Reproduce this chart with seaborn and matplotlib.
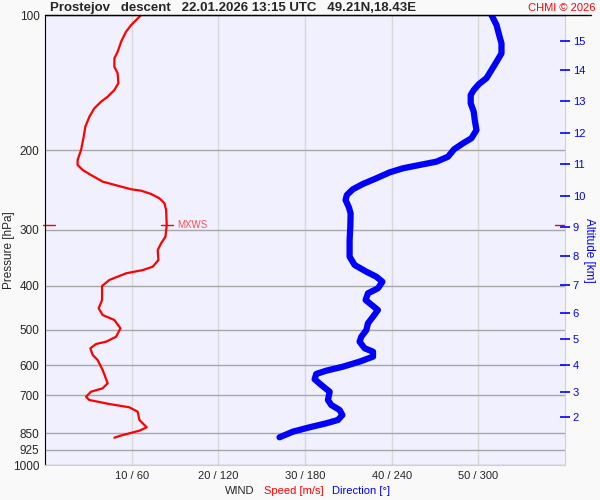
import numpy as np
import pandas as pd
import seaborn as sns
import matplotlib
matplotlib.use("Agg")
import matplotlib.pyplot as plt
from matplotlib.lines import Line2D
from matplotlib.ticker import FixedLocator, NullLocator

# wind speed profile [m/s] vs pressure [hPa]
speed_p = [100.0, 105.3, 108.9, 114.6, 120.7, 124.8, 130.3, 134.8, 141.8, 146.8,
           151.9, 155.8, 161.2, 168.3, 177.1, 186.4, 199.5, 210.0, 215.4, 221.0,
           226.8, 234.6, 239.5, 243.9, 245.7, 249.9, 255.5, 262.1, 271.3, 292.9,
           311.0, 321.7, 332.9, 350.4, 362.6, 368.8, 375.0, 388.0, 400.2, 429.9,
           448.5, 464.2, 476.2, 496.9, 518.7, 532.1, 538.4, 550.4, 569.5, 584.3,
           615.0, 658.2, 675.4, 687.2, 705.1, 717.1, 731.9, 744.4, 761.3, 794.3,
           824.5, 839.0, 850.3, 862.1, 869.6]
speed = [11.09, 9.93, 9.35, 8.78, 8.38, 8.0, 8.0, 8.38, 8.46, 8.0,
         7.23, 6.47, 5.69, 5.12, 4.65, 4.46, 4.16, 3.76, 3.76, 4.34,
         5.31, 6.65, 8.38, 9.93, 11.09, 12.24, 13.2, 13.78, 13.97, 14.04,
         13.89, 13.39, 13.0, 13.08, 12.42, 11.27, 9.35, 7.42, 6.58, 6.58,
         6.19, 6.65, 8.0, 8.7, 8.2, 7.04, 5.89, 5.23, 5.5, 6.07,
         6.65, 7.23, 6.65, 5.31, 4.73, 5.12, 7.42, 9.73, 10.69, 10.89,
         11.73, 10.89, 9.73, 8.58, 8.0]

# wind direction profile [deg] vs pressure [hPa]
dir_p = [100.0, 105.3, 110.8, 115.6, 121.7, 127.0, 132.5, 138.2, 142.3, 146.8,
         150.6, 157.1, 164.0, 171.2, 180.2, 187.9, 192.8, 198.8, 206.5, 211.8,
         215.4, 219.1, 223.7, 230.6, 237.4, 243.9, 251.2, 257.7, 267.5, 275.9,
         295.4, 316.2, 344.4, 359.4, 371.9, 381.6, 391.5, 404.9, 415.4, 429.9,
         443.3, 452.5, 468.2, 484.3, 501.2, 518.7, 532.1, 550.4, 560.0, 574.4,
         589.3, 604.6, 617.1, 627.6, 644.9, 664.0, 687.3, 717.1, 735.6, 754.6,
         774.3, 794.3, 807.8, 824.5, 843.3, 867.8]
direction = [309.0, 312.5, 314.3, 315.9, 315.9, 312.5, 309.0, 305.5, 300.4, 296.7,
             294.6, 294.6, 296.7, 297.4, 298.6, 295.1, 289.3, 283.1, 278.9, 270.9,
             259.3, 247.7, 238.5, 229.3, 220.0, 213.1, 208.9, 208.0, 210.3, 211.5,
             211.3, 210.8, 210.8, 214.3, 222.4, 229.3, 233.5, 230.4, 223.5, 221.9,
             227.0, 230.4, 227.0, 223.5, 222.4, 218.9, 217.7, 221.2, 227.0, 227.0,
             217.7, 206.2, 194.7, 187.7, 186.6, 191.2, 197.0, 195.8, 198.1, 203.9,
             205.8, 202.7, 194.7, 183.1, 171.5, 162.3]

p_ticks = [100, 200, 300, 400, 500, 600, 700, 850, 925, 1000]
x_ticks = [10, 20, 30, 40, 50]
x_labels = ["10 / 60", "20 / 120", "30 / 180", "40 / 240", "50 / 300"]
alt_km = [2, 3, 4, 5, 6, 7, 8, 9, 10, 11, 12, 13, 14, 15]
alt_p = [781.0, 687.3, 600.2, 525.6, 458.7, 398.1, 343.2, 295.4, 252.1, 214.7,
         182.6, 155.3, 132.7, 114.2]

sns.set_style("white")
plt.rcParams['font.family'] = ['Liberation Sans', 'DejaVu Sans']

spd = pd.DataFrame({"speed": speed, "p": speed_p})
wdir = pd.DataFrame({"dir": direction, "p": dir_p})
wdir["x"] = wdir["dir"] / 6.0  # 60 deg per 10 m/s on the shared axis

fig = plt.figure(figsize=(6, 5), dpi=100, facecolor="#f9f9f9")
ax = fig.add_axes([0.075, 0.07, 0.867, 0.90])
ax.set_facecolor("#f0f0ff")

sns.lineplot(data=wdir, x="x", y="p", sort=False, estimator=None, ax=ax,
             color="#0000ff", lw=4.5, solid_capstyle="round", solid_joinstyle="round")
sns.lineplot(data=spd, x="speed", y="p", sort=False, estimator=None, ax=ax,
             color="#ff0000", lw=1.6)

ax.set_yscale("log")
ax.set_ylim(1000, 100)
ax.set_xlim(0, 60)
ax.yaxis.set_major_locator(FixedLocator(p_ticks))
ax.yaxis.set_minor_locator(NullLocator())
ax.set_yticklabels([str(v) for v in p_ticks], fontsize=8.5)
ax.set_xticks(x_ticks)
ax.set_xticklabels(x_labels, fontsize=8)
ax.tick_params(axis="both", length=0, pad=4)
ax.set_xlabel("")
ax.set_ylabel("")
fig.text(9 / 600, 1 - 250 / 500, "Pressure [hPa]", fontsize=8.5, rotation=90,
         va="center", ha="center")

for v in p_ticks:
    ax.axhline(v, color="#a8a8a8", lw=1, zorder=0.5)
for v in x_ticks:
    ax.axvline(v, color="#d8d8d8", lw=1, zorder=0.4)

for s in ["right", "bottom"]:
    ax.spines[s].set_color("#d0d0d0")
ax.spines["left"].set_color("black")
ax.spines["top"].set_color("black")

# maximum wind marker
i = int(np.argmax(speed))
ax.plot([speed[i] - 0.7, speed[i] + 0.7], [speed_p[i]] * 2, color="#ff0000", lw=1)
ax.text(speed[i] + 1.2, speed_p[i], "MXWS", color="#ff5050", fontsize=7, va="center")
ax.plot([-0.004, 0.02], [speed_p[i]] * 2, color="#ff0000", lw=1,
        transform=ax.get_yaxis_transform(), clip_on=False)
ax.plot([0.98, 1.0], [speed_p[i]] * 2, color="#ff0000", lw=1,
        transform=ax.get_yaxis_transform(), clip_on=False)

# altitude axis
ax2 = ax.twinx()
ax2.set_yscale("log")
ax2.set_ylim(1000, 100)
ax2.yaxis.set_major_locator(FixedLocator(alt_p))
ax2.yaxis.set_minor_locator(NullLocator())
ax2.set_yticklabels([str(v) for v in alt_km], fontsize=8, color="#0000ff")
ax2.tick_params(axis="y", direction="inout", length=7, width=1.2, color="#0000ff", pad=2)
for s in ax2.spines.values():
    s.set_visible(False)

fig.text(50 / 600, 1 - 8 / 500, "Prostejov   descent   22.01.2026 13:15 UTC   49.21N,18.43E",
         fontsize=9.5, weight="bold", va="center", ha="left")
fig.text(596 / 600, 1 - 8 / 500, "CHMI © 2026", color="#ff0000", fontsize=8,
         va="center", ha="right")
fig.add_artist(Line2D([45 / 600, 591 / 600], [1 - 15 / 500] * 2, color="black", lw=1))
fig.text(589 / 600, 1 - 250 / 500, "Altitude [km]", color="#0000ff", fontsize=8.5,
         rotation=270, va="center", ha="center")

fig.text(254 / 600, 1 - 491 / 500, "WIND", fontsize=8, ha="right", va="center")
fig.text(264 / 600, 1 - 491 / 500, "Speed [m/s]", fontsize=8, color="#ff0000",
         ha="left", va="center")
fig.text(332 / 600, 1 - 491 / 500, "Direction [°]", fontsize=8, color="#0000ff",
         ha="left", va="center")

fig.savefig("out.png", dpi=100, facecolor=fig.get_facecolor())
